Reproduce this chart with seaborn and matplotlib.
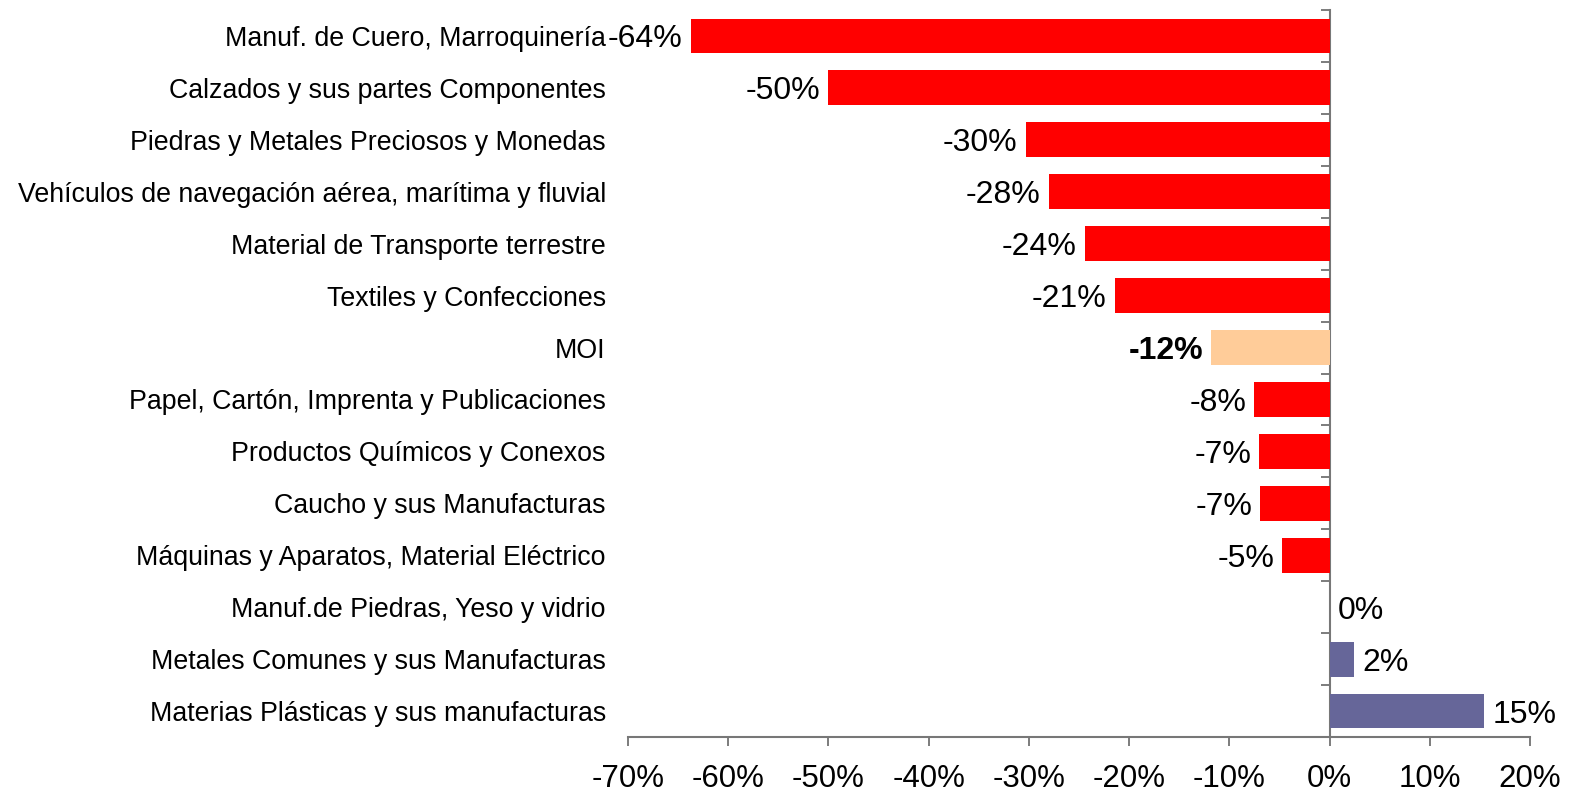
import numpy as np
import pandas as pd
import matplotlib
matplotlib.use("Agg")
import matplotlib.pyplot as plt
import seaborn as sns

# --- Datos ---
rubros = [
    "Manuf. de Cuero, Marroquinería",
    "Calzados y sus partes Componentes",
    "Piedras y Metales Preciosos y Monedas",
    "Vehículos de navegación aérea, marítima y fluvial",
    "Material de Transporte terrestre",
    "Textiles y Confecciones",
    "MOI",
    "Papel, Cartón, Imprenta y Publicaciones",
    "Productos Químicos y Conexos",
    "Caucho y sus Manufacturas",
    "Máquinas y Aparatos, Material Eléctrico",
    "Manuf.de Piedras, Yeso y vidrio",
    "Metales Comunes y sus Manufacturas",
    "Materias Plásticas y sus manufacturas",
]
variacion = [-63.7, -50.0, -30.3, -28.0, -24.4, -21.4, -11.8, -7.5, -7.0, -6.9, -4.7, 0.0, 2.4, 15.4]
etiquetas = ["-64%", "-50%", "-30%", "-28%", "-24%", "-21%", "-12%", "-8%", "-7%", "-7%", "-5%", "0%", "2%", "15%"]
xticks = [-70, -60, -50, -40, -30, -20, -10, 0, 10, 20]

ROJO = "#FF0000"
MOI_COLOR = "#FFCC99"
AZUL = "#666699"

df = pd.DataFrame({"rubro": rubros, "var": variacion, "etiqueta": etiquetas})
df["grupo"] = np.where(df["rubro"] == "MOI", "moi", np.where(df["var"] > 0, "pos", "neg"))

sns.set_style("white")
plt.rcParams["font.family"] = ["Liberation Sans", "DejaVu Sans"]
plt.rcParams["text.color"] = "black"
plt.rcParams["xtick.labelcolor"] = "black"
plt.rcParams["ytick.labelcolor"] = "black"

fig = plt.figure(figsize=(15.76, 7.96), dpi=100)
ax = fig.add_axes([628 / 1576, 1 - 737 / 796, (1530 - 628) / 1576, (737 - 10) / 796])

sns.barplot(
    data=df, x="var", y="rubro", hue="grupo", order=rubros,
    palette={"neg": ROJO, "moi": MOI_COLOR, "pos": AZUL},
    width=0.67, dodge=False, legend=False, ax=ax, saturation=1, linewidth=0,
)

ax.set_xlim(-70, 20)
ax.set_ylim(len(rubros) - 0.5, -0.5)
ax.set_xticks(xticks)
ax.set_xticklabels([f"{t}%" for t in xticks], fontsize=22.5)
ax.tick_params(axis="x", bottom=True, direction="out", length=6.5, width=1.2, color="#666666", pad=13)
ax.tick_params(axis="y", left=False, length=0, labelsize=19.3, pad=16)
ax.set_xlabel("")
ax.set_ylabel("")

for s in ["top", "right", "left"]:
    ax.spines[s].set_visible(False)
ax.spines["bottom"].set_color("#777777")
ax.spines["bottom"].set_linewidth(1.5)

# eje vertical en 0 con marcas entre categorías
eje0 = ax.secondary_yaxis(70 / 90)
eje0.set_alignment("left")
eje0.set_yticks(np.arange(len(rubros) + 1) - 0.5)
eje0.set_yticklabels([])
eje0.tick_params(axis="y", left=True, direction="out", length=6.5, width=1.2, color="#666666")
eje0.spines["left"].set_color("#777777")
eje0.spines["left"].set_linewidth(1.5)

# etiquetas de valores
for i, row in df.iterrows():
    peso = "bold" if row["rubro"] == "MOI" else "normal"
    if row["var"] < 0:
        ax.annotate(row["etiqueta"], (row["var"], i), xytext=(-6, 0), textcoords="offset points",
                    ha="right", va="center_baseline", fontsize=23, fontweight=peso)
    else:
        ax.annotate(row["etiqueta"], (row["var"], i), xytext=(6, 0), textcoords="offset points",
                    ha="left", va="center_baseline", fontsize=23, fontweight=peso)

fig.savefig("out.png", dpi=100)
